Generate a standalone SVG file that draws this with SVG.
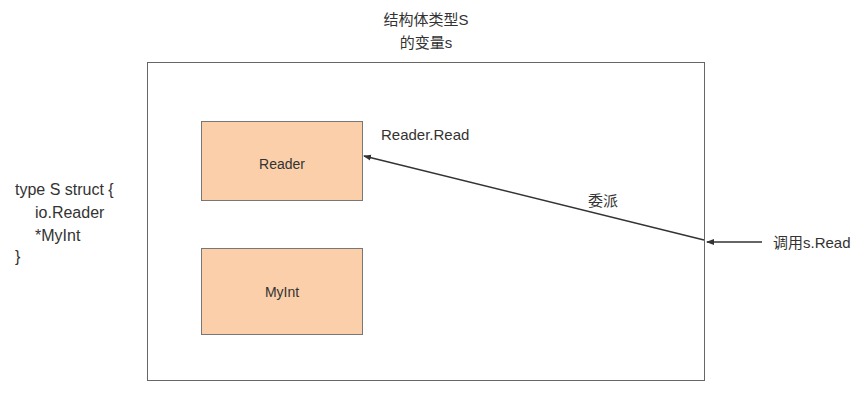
<svg xmlns="http://www.w3.org/2000/svg" width="865" height="403" viewBox="0 0 865 403">
<style>
text{font-family:"Liberation Sans","Noto Sans CJK SC",sans-serif;font-size:15px;fill:#333}
.box{fill:#FACFAA;stroke:#777;stroke-width:1}
.lbl{font-size:14px}
.code{font-size:16px}
.ln{stroke:#333;stroke-width:1.5;fill:none}
</style>
<defs>
<marker id="ah" markerWidth="8" markerHeight="8" refX="7" refY="4" orient="auto" markerUnits="userSpaceOnUse">
<path d="M0,1 L8,4 L0,7 Z" fill="#333"/>
</marker>
</defs>
<rect width="865" height="403" fill="#fff"/>
<g id="outer">
<rect x="147.5" y="62.5" width="557" height="318" fill="none" stroke="#666" stroke-width="1"/>
<text x="426" y="25" text-anchor="middle">结构体类型S</text>
<text x="426" y="48" text-anchor="middle">的变量s</text>
</g>
<g id="reader">
<rect class="box" x="201.5" y="121.5" width="161" height="79"/>
<text class="lbl" x="282" y="169" text-anchor="middle">Reader</text>
</g>
<g id="myint">
<rect class="box" x="201.5" y="248.5" width="161" height="86"/>
<text class="lbl" x="282" y="297" text-anchor="middle">MyInt</text>
</g>
<g id="code">
<text class="code" x="15" y="195">type S struct {</text>
<text class="code" x="35" y="218">io.Reader</text>
<text class="code" x="35" y="241">*MyInt</text>
<text class="code" x="15" y="262">}</text>
</g>
<g id="connectors">
<line class="ln" x1="704" y1="240" x2="364" y2="156" marker-end="url(#ah)"/>
<line class="ln" x1="762" y1="242" x2="707" y2="242" marker-end="url(#ah)"/>
</g>
<text x="381" y="140">Reader.Read</text>
<text x="588" y="206">委派</text>
<text x="773" y="248">调用s.Read</text>
</svg>
